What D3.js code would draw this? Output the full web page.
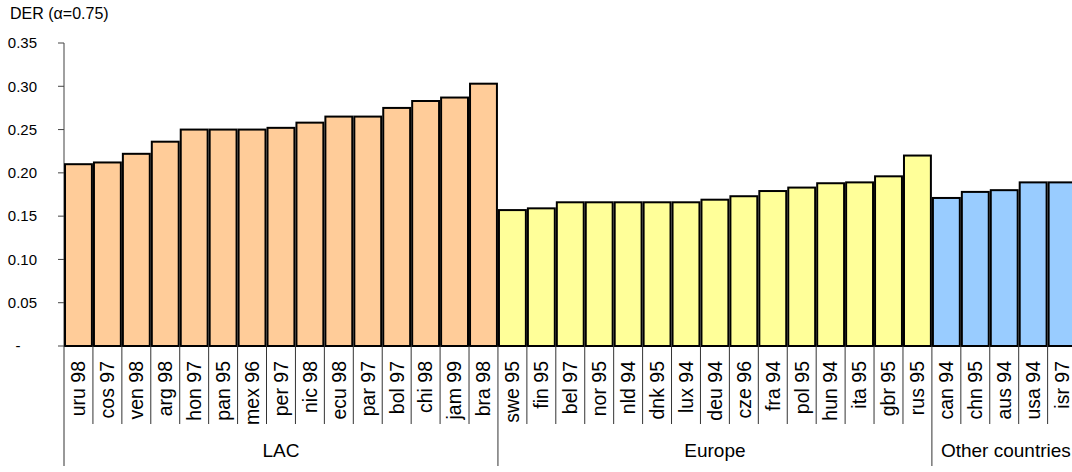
<!DOCTYPE html>
<html>
<head>
<meta charset="utf-8">
<script src="https://cdn.jsdelivr.net/npm/d3@7"></script>
<style>
  body { margin: 0; background: #fff; }
  svg { display: block; font-family: "Liberation Sans", Arial, sans-serif; }
</style>
</head>
<body>
<div id="chart"></div>
<script>
// data
var lacNames = ["uru 98","cos 97","ven 98","arg 98","hon 97","pan 95","mex 96","per 97","nic 98","ecu 98","par 97","bol 97","chi 98","jam 99","bra 98"];
var lacValues = [0.210,0.212,0.222,0.236,0.250,0.250,0.250,0.252,0.258,0.265,0.265,0.275,0.283,0.287,0.303];

var eurNames = ["swe 95","fin 95","bel 97","nor 95","nld 94","dnk 95","lux 94","deu 94","cze 96","fra 94","pol 95","hun 94","ita 95","gbr 95","rus 95"];
var eurValues = [0.157,0.159,0.166,0.166,0.166,0.166,0.166,0.169,0.173,0.179,0.183,0.188,0.189,0.196,0.220];

var othNames = ["can 94","chn 95","aus 94","usa 94","isr 97"];
var othValues = [0.171,0.178,0.180,0.189,0.189];

var groupNames = ["LAC","Europe","Other countries"];
var groupColors = ["#FFCC99","#FFFF99","#99CCFF"];
var yTicks = [0,0.05,0.10,0.15,0.20,0.25,0.30,0.35];

var W = 1072, H = 472;
var plotLeft = 64, plotTop = 43, plotBottom = 346;
var step = 28.93;

var rows = [];
[[lacNames,lacValues],[eurNames,eurValues],[othNames,othValues]].forEach(function(g, gi){
    for (var i = 0; i < g[0].length; i++) {
        rows.push({name: g[0][i], value: g[1][i], group: gi});
    }
});

var svg = d3.select("#chart").append("svg")
    .attr("width", W)
    .attr("height", H);

var x = d3.scaleBand()
    .domain(rows.map(function(d){ return d.name; }))
    .range([plotLeft, plotLeft + step * rows.length])
    .paddingInner(0.07)
    .paddingOuter(0.035);

var y = d3.scaleLinear().domain([0, 0.35]).range([plotBottom, plotTop]);

// title
svg.append("text")
    .attr("x", 10).attr("y", 19)
    .attr("font-size", 16)
    .text("DER (α=0.75)");

// y axis
svg.append("line")
    .attr("x1", plotLeft).attr("x2", plotLeft)
    .attr("y1", y(0.35)).attr("y2", plotBottom)
    .attr("stroke", "#808080").attr("stroke-width", 1.5);

svg.selectAll(".ytick").data(yTicks).enter().append("line")
    .attr("x1", plotLeft - 6).attr("x2", plotLeft)
    .attr("y1", function(d){ return y(d); })
    .attr("y2", function(d){ return y(d); })
    .attr("stroke", "#444").attr("stroke-width", 1);

svg.selectAll(".ylab").data(yTicks).enter().append("text")
    .attr("x", function(d){ return d === 0 ? 18 : 37; })
    .attr("y", function(d){ return y(d); })
    .attr("dy", "0.35em")
    .attr("text-anchor", function(d){ return d === 0 ? "middle" : "end"; })
    .attr("font-size", 15)
    .text(function(d){ return d === 0 ? "-" : d3.format(".2f")(d); });

// bars
svg.selectAll(".bar").data(rows).enter().append("rect")
    .attr("x", function(d){ return x(d.name); })
    .attr("y", function(d){ return y(d.value); })
    .attr("width", x.bandwidth())
    .attr("height", function(d){ return plotBottom - y(d.value); })
    .attr("fill", function(d){ return groupColors[d.group]; })
    .attr("stroke", "#000").attr("stroke-width", 2);

// category separators under axis
var bounds = d3.range(rows.length + 1).map(function(i){ return plotLeft + i * step; });
var groupStarts = [0, lacNames.length, lacNames.length + eurNames.length];
svg.selectAll(".sep").data(bounds).enter().append("line")
    .attr("x1", function(d){ return d; })
    .attr("x2", function(d){ return d; })
    .attr("y1", plotBottom)
    .attr("y2", function(d, i){ return groupStarts.indexOf(i) >= 0 ? 466 : 424; })
    .attr("stroke", "#333").attr("stroke-width", 1);

// category labels
svg.selectAll(".xlab").data(rows).enter().append("text")
    .attr("transform", function(d){
        return "translate(" + (x(d.name) + x.bandwidth() / 2) + ",361) rotate(-90)";
    })
    .attr("dy", "0.35em")
    .attr("text-anchor", "end")
    .attr("font-size", 19.5)
    .text(function(d){ return d.name; });

// group labels
var groupCounts = [lacNames.length, eurNames.length, othNames.length];
svg.selectAll(".glab").data(groupNames).enter().append("text")
    .attr("x", function(d, i){
        var s = groupStarts[i] * step + plotLeft;
        var e = (groupStarts[i] + groupCounts[i]) * step + plotLeft;
        return i === 2 ? s + 9 : (s + e) / 2;
    })
    .attr("y", 457)
    .attr("text-anchor", function(d, i){ return i === 2 ? "start" : "middle"; })
    .attr("font-size", 19)
    .text(function(d){ return d; });
</script>
</body>
</html>
